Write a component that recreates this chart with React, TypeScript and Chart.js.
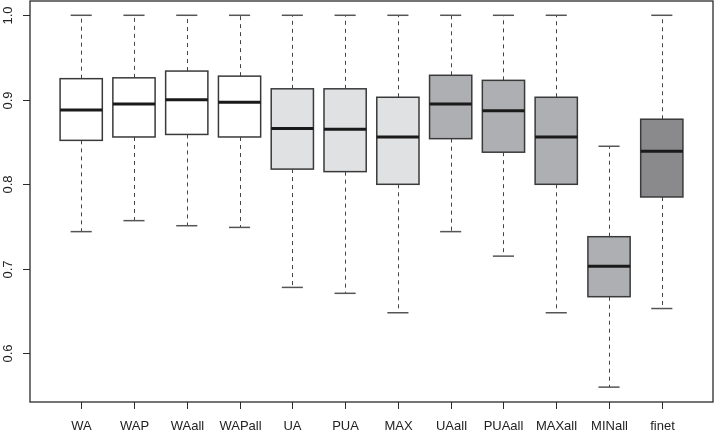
import React, { useEffect, useRef } from 'react';
import { Chart, registerables } from 'chart.js';
Chart.register(...registerables);

const categories = ['WA', 'WAP', 'WAall', 'WAPall', 'UA', 'PUA', 'MAX', 'UAall', 'PUAall', 'MAXall', 'MINall', 'finet'];
const whiskerLow = [0.744, 0.757, 0.751, 0.749, 0.678, 0.671, 0.648, 0.744, 0.715, 0.648, 0.560, 0.653];
const q1 = [0.852, 0.856, 0.859, 0.856, 0.818, 0.815, 0.800, 0.854, 0.838, 0.800, 0.667, 0.785];
const median = [0.888, 0.895, 0.900, 0.897, 0.866, 0.865, 0.856, 0.895, 0.887, 0.856, 0.703, 0.839];
const q3 = [0.925, 0.926, 0.934, 0.928, 0.913, 0.913, 0.903, 0.929, 0.923, 0.903, 0.738, 0.877];
const whiskerHigh = [1.0, 1.0, 1.0, 1.0, 1.0, 1.0, 1.0, 1.0, 1.0, 1.0, 0.845, 1.0];
const boxColors = ['#ffffff', '#ffffff', '#ffffff', '#ffffff', '#e0e1e3', '#e0e1e3', '#e0e1e3', '#aeafb2', '#aeafb2', '#aeafb2', '#aeafb2', '#8a8a8c'];
const yTicks = [0.6, 0.7, 0.8, 0.9, 1.0];
const yTickLabels = ['0.6', '0.7', '0.8', '0.9', '1.0'];

const FONT = '13px "Liberation Sans", Arial, sans-serif';

const boxPlugin = {
  id: 'rbox',
  afterDatasetsDraw(chart: any) {
    const { ctx, chartArea: a } = chart;
    const x = chart.scales.x;
    const y = chart.scales.y;
    const line = (x1: number, y1: number, x2: number, y2: number) => {
      ctx.beginPath();
      ctx.moveTo(x1, y1);
      ctx.lineTo(x2, y2);
      ctx.stroke();
    };
    ctx.save();
    categories.forEach((_, i) => {
      const p = i + 1;
      const cx = Math.round(x.getPixelForValue(p)) + 0.5;
      const bl = x.getPixelForValue(p - 0.4);
      const br = x.getPixelForValue(p + 0.4);
      const cl = x.getPixelForValue(p - 0.2);
      const cr = x.getPixelForValue(p + 0.2);
      const yLo = y.getPixelForValue(whiskerLow[i]);
      const yQ1 = y.getPixelForValue(q1[i]);
      const yMed = y.getPixelForValue(median[i]);
      const yQ3 = y.getPixelForValue(q3[i]);
      const yHi = y.getPixelForValue(whiskerHigh[i]);
      // whiskers
      ctx.strokeStyle = '#444444';
      ctx.lineWidth = 1;
      ctx.setLineDash([4, 4]);
      line(cx, yQ3, cx, yHi);
      line(cx, yQ1, cx, yLo);
      ctx.setLineDash([]);
      // caps
      ctx.strokeStyle = '#555555';
      ctx.lineWidth = 1.5;
      line(cl, yHi, cr, yHi);
      line(cl, yLo, cr, yLo);
      // box
      ctx.fillStyle = boxColors[i];
      ctx.fillRect(bl, yQ3, br - bl, yQ1 - yQ3);
      ctx.strokeStyle = '#3a3a3a';
      ctx.lineWidth = 1.5;
      ctx.strokeRect(bl, yQ3, br - bl, yQ1 - yQ3);
      // median
      ctx.strokeStyle = '#1a1a1a';
      ctx.lineWidth = 3;
      line(bl, yMed, br, yMed);
    });
    // frame
    ctx.strokeStyle = '#2a2a2a';
    ctx.lineWidth = 1.3;
    ctx.strokeRect(a.left, a.top, a.right - a.left, a.bottom - a.top);
    // y axis ticks & labels
    ctx.fillStyle = '#222222';
    ctx.font = FONT;
    ctx.lineWidth = 1;
    yTicks.forEach((v, k) => {
      const py = Math.round(y.getPixelForValue(v)) + 0.5;
      line(a.left - 7, py, a.left, py);
      ctx.save();
      ctx.translate(8, py);
      ctx.rotate(-Math.PI / 2);
      ctx.textAlign = 'center';
      ctx.textBaseline = 'middle';
      ctx.fillText(yTickLabels[k], 0, 0);
      ctx.restore();
    });
    // x axis ticks & labels
    ctx.textAlign = 'center';
    ctx.textBaseline = 'middle';
    categories.forEach((c, i) => {
      const px = Math.round(x.getPixelForValue(i + 1)) + 0.5;
      line(px, a.bottom, px, a.bottom + 7);
      ctx.fillText(c, px, a.bottom + 24);
    });
    ctx.restore();
  },
};

export default function App() {
  const ref = useRef<HTMLCanvasElement>(null);
  useEffect(() => {
    const canvas = ref.current;
    if (!canvas) return;
    const chart = new Chart(canvas, {
      type: 'scatter',
      data: {
        datasets: [
          {
            data: median.map((m, i) => ({ x: i + 1, y: m })),
            pointRadius: 0,
            showLine: false,
          },
        ],
      },
      options: {
        animation: false,
        responsive: false,
        layout: { padding: { left: 30, top: 1, right: 1, bottom: 35 } },
        plugins: { legend: { display: false }, tooltip: { enabled: false } },
        scales: {
          x: { type: 'linear', min: 0.03, max: 12.97, display: false },
          y: { type: 'linear', min: 0.5424, max: 1.0169, display: false },
        },
      },
      plugins: [boxPlugin],
    });
    return () => chart.destroy();
  }, []);
  return (
    <canvas
      ref={ref}
      width={714}
      height={437}
      style={{ position: 'absolute', left: 0, top: 0, display: 'block', background: '#ffffff' }}
    />
  );
}
